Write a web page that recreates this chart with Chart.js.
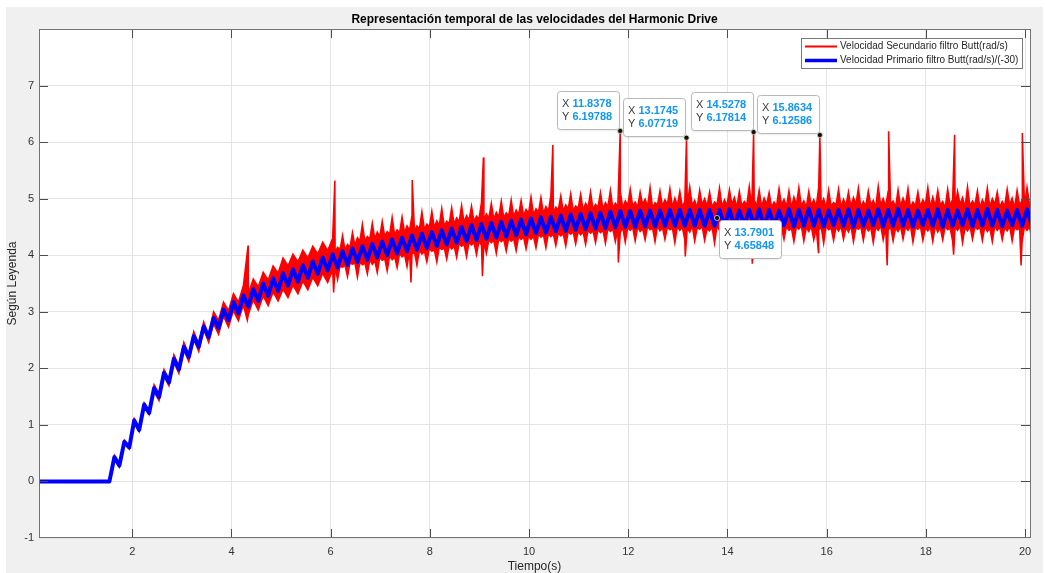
<!DOCTYPE html>
<html>
<head>
<meta charset="utf-8">
<script src="https://cdn.jsdelivr.net/npm/chart.js@4.4.1/dist/chart.umd.min.js"></script>
<style>
  html, body { margin: 0; padding: 0; background: #ffffff; }
  canvas { display: block; }
</style>
</head>
<body>
<canvas id="grafica" width="1045" height="573"></canvas>
<script>
// Base de tiempos de las muestras (s)
const T_INICIO = 1.54;
const T_MEDIO = 6.09;
const PASO = 0.1;

// Velocidad secundario filtrada (rad/s): envolvente superior e inferior de la señal
const secSuperior = [
  0, 0.46, 0.31, 0.73, 0.63, 1.11, 0.94, 1.39, 1.24, 1.71,
  1.55, 1.98, 1.81, 2.24, 2.04, 2.46, 2.25, 2.65, 2.43, 2.82,
  2.59, 3.0, 2.85, 3.17, 3.02, 3.32, 3.17, 3.46, 3.32, 3.58,
  3.44, 3.7, 3.56, 3.81, 3.68, 3.95, 3.81, 4.02, 3.88, 4.09,
  3.95, 4.16, 4.02, 4.23, 4.08, 4.3, 4.14, 4.35, 4.19, 4.4,
  4.31, 4.55, 4.33, 4.57, 4.41, 4.6, 4.42, 4.67, 4.45, 4.68,
  4.52, 4.7, 4.52, 4.77, 4.55, 4.78, 4.61, 4.83, 4.6, 4.84,
  4.66, 4.88, 4.7, 4.87, 4.69, 4.93, 4.73, 4.92, 4.76, 4.96,
  4.75, 4.98, 4.8, 4.97, 4.81, 5.03, 4.82, 5.02, 4.86, 5.06,
  4.85, 5.05, 4.89, 5.09, 4.87, 5.08, 4.92, 5.12, 4.9, 5.11,
  4.93, 5.15, 4.92, 5.13, 4.96, 5.17, 4.94, 5.12, 4.99, 5.2,
  4.93, 5.14, 4.98, 5.18, 5.01, 5.13, 4.95, 5.21, 4.97, 5.15,
  5.0, 5.12, 4.94, 5.19, 4.98, 5.16, 5.02, 5.13, 4.95, 5.22,
  4.97, 5.15, 5.01, 5.11, 4.94, 5.18, 4.99, 5.14, 5.03, 5.2,
  4.96, 5.13, 4.98, 5.21, 5.0, 5.15, 4.93, 5.17, 4.99, 5.12,
  5.02, 5.19, 4.95, 5.14, 4.97, 5.22, 5.0, 5.13, 4.96, 5.16,
  5.01, 5.18, 4.94, 5.12, 4.98, 5.2, 5.03, 5.15, 4.95, 5.17,
  4.99, 5.13, 5.02, 5.21, 4.96, 5.14, 4.98, 5.19, 5.0, 5.12,
  4.95, 5.17, 5.01, 5.15, 4.97, 5.2, 4.99
];
const secInferior = [
  0, 0.4, 0.25, 0.67, 0.57, 1.05, 0.88, 1.33, 1.18, 1.59,
  1.43, 1.86, 1.69, 2.11, 1.91, 2.33, 2.12, 2.52, 2.3, 2.69,
  2.46, 2.79, 2.6, 2.92, 2.73, 3.02, 2.84, 3.12, 2.95, 3.21,
  3.03, 3.28, 3.11, 3.35, 3.19, 3.4, 3.25, 3.47, 3.32, 3.54,
  3.39, 3.61, 3.46, 3.68, 3.52, 3.74, 3.57, 3.79, 3.62, 3.84,
  3.61, 3.83, 3.67, 3.84, 3.69, 3.91, 3.72, 3.92, 3.78, 3.97,
  3.8, 4.02, 3.82, 4.02, 3.88, 4.07, 3.88, 4.1, 3.93, 4.11,
  3.96, 4.16, 3.97, 4.18, 4.01, 4.18, 4.03, 4.22, 4.03, 4.24,
  4.07, 4.25, 4.08, 4.28, 4.11, 4.28, 4.13, 4.32, 4.13, 4.33,
  4.17, 4.34, 4.16, 4.37, 4.2, 4.36, 4.19, 4.39, 4.22, 4.4,
  4.21, 4.42, 4.24, 4.41, 4.23, 4.44, 4.25, 4.42, 4.27, 4.45,
  4.24, 4.43, 4.28, 4.45, 4.22, 4.44, 4.27, 4.41, 4.25, 4.46,
  4.26, 4.43, 4.21, 4.44, 4.28, 4.42, 4.25, 4.46, 4.23, 4.44,
  4.27, 4.41, 4.26, 4.45, 4.22, 4.43, 4.28, 4.44, 4.24, 4.46,
  4.25, 4.42, 4.27, 4.44, 4.21, 4.45, 4.26, 4.43, 4.28, 4.41,
  4.24, 4.46, 4.26, 4.43, 4.22, 4.44, 4.27, 4.45, 4.25, 4.42,
  4.28, 4.44, 4.23, 4.46, 4.26, 4.43, 4.24, 4.41, 4.27, 4.45,
  4.25, 4.44, 4.22, 4.43, 4.28, 4.46, 4.26, 4.42, 4.24, 4.44,
  4.27, 4.43, 4.25, 4.45, 4.23, 4.44, 4.26
];

// Muestras intermedias de las envolventes, desde T_MEDIO cada PASO
const secSuperiorMedio = [
  4.05, 4.1, 4.09, 4.14, 4.17, 4.25, 4.25, 4.29, 4.29, 4.33,
  4.33, 4.37, 4.36, 4.4, 4.4, 4.44, 4.43, 4.47, 4.46, 4.5,
  4.49, 4.53, 4.52, 4.56, 4.55, 4.59, 4.58, 4.62, 4.6, 4.64,
  4.62, 4.66, 4.64, 4.68, 4.66, 4.7, 4.68, 4.72, 4.7, 4.74,
  4.72, 4.76, 4.74, 4.78, 4.76, 4.8, 4.78, 4.82, 4.79, 4.83,
  4.8, 4.84, 4.81, 4.85, 4.82, 4.86, 4.83, 4.87, 4.84, 4.88,
  4.87, 4.85, 4.9, 4.86, 4.84, 4.89, 4.87, 4.9, 4.85, 4.88,
  4.86, 4.9, 4.88, 4.84, 4.89, 4.87, 4.85, 4.9, 4.86, 4.88,
  4.9, 4.85, 4.87, 4.89, 4.84, 4.88, 4.86, 4.9, 4.85, 4.87,
  4.89, 4.86, 4.84, 4.9, 4.87, 4.85, 4.88, 4.86, 4.9, 4.84,
  4.87, 4.89, 4.85, 4.88, 4.86, 4.9, 4.84, 4.87, 4.89, 4.85,
  4.88, 4.86, 4.9, 4.85, 4.87, 4.89, 4.84, 4.88, 4.86, 4.9,
  4.85, 4.87, 4.89, 4.84, 4.88, 4.86, 4.9, 4.85, 4.87, 4.89,
  4.84, 4.88, 4.86, 4.9, 4.85, 4.87, 4.89, 4.84, 4.88, 4.86, 4.9
];
const secInferiorMedio = [
  3.78, 3.81, 3.82, 3.86, 3.86,
  3.88, 3.86, 3.92, 3.9, 3.96, 3.94, 3.99, 3.97, 4.03, 4.01,
  4.07, 4.05, 4.09, 4.07, 4.12, 4.1, 4.14, 4.13, 4.17, 4.16,
  4.21, 4.19, 4.23, 4.22, 4.24, 4.23, 4.27, 4.26, 4.29, 4.28,
  4.3, 4.29, 4.33, 4.32, 4.34, 4.33, 4.37, 4.36, 4.38, 4.37,
  4.39, 4.38, 4.42, 4.41, 4.42, 4.41, 4.44, 4.43, 4.45, 4.44,
  4.47, 4.46, 4.46, 4.48, 4.49,
  4.49, 4.5, 4.47, 4.51, 4.48, 4.52, 4.49, 4.5, 4.48, 4.51,
  4.5, 4.48, 4.52, 4.49, 4.51, 4.47, 4.5, 4.52, 4.49, 4.48,
  4.51, 4.49, 4.5, 4.52, 4.48, 4.51, 4.49, 4.5, 4.47, 4.52,
  4.49, 4.51, 4.48, 4.5, 4.52, 4.49, 4.51, 4.48, 4.5, 4.52,
  4.48, 4.5, 4.51, 4.49, 4.52, 4.48, 4.5, 4.51, 4.49, 4.5,
  4.52, 4.49, 4.5, 4.48, 4.51, 4.5, 4.52, 4.49, 4.51, 4.48,
  4.5, 4.52, 4.49, 4.51, 4.48, 4.5, 4.52, 4.49, 4.51, 4.5,
  4.49, 4.51, 4.48, 4.52, 4.5, 4.49, 4.51, 4.5, 4.48, 4.52, 4.5
];

// Velocidad primario filtrada /(-30)
const velPrimario = [
  0, 0.43, 0.28, 0.7, 0.6, 1.08, 0.91, 1.36, 1.21, 1.65,
  1.49, 1.92, 1.75, 2.17, 1.98, 2.38, 2.2, 2.57, 2.38, 2.74,
  2.55, 2.89, 2.71, 3.04, 2.85, 3.17, 2.97, 3.29, 3.09, 3.4,
  3.19, 3.5, 3.28, 3.59, 3.37, 3.68, 3.46, 3.75, 3.53, 3.82,
  3.6, 3.89, 3.67, 3.96, 3.73, 4.02, 3.78, 4.07, 3.83, 4.12,
  3.88, 4.16, 3.92, 4.2, 3.96, 4.24, 4.0, 4.28, 4.03, 4.31,
  4.07, 4.35, 4.1, 4.38, 4.13, 4.41, 4.16, 4.44, 4.19, 4.47,
  4.22, 4.5, 4.25, 4.53, 4.27, 4.55, 4.29, 4.57, 4.31, 4.59,
  4.33, 4.61, 4.35, 4.63, 4.37, 4.65, 4.39, 4.67, 4.4, 4.68,
  4.42, 4.7, 4.43, 4.72, 4.45, 4.73, 4.46, 4.74, 4.47, 4.75,
  4.48, 4.77, 4.49, 4.78, 4.5, 4.78, 4.5, 4.79, 4.51, 4.79,
  4.51, 4.79, 4.52, 4.8, 4.52, 4.8, 4.52, 4.8, 4.52, 4.8,
  4.52, 4.8, 4.52, 4.8, 4.52, 4.81, 4.51, 4.79, 4.53, 4.8,
  4.52, 4.81, 4.5, 4.8, 4.52, 4.79, 4.53, 4.81, 4.51, 4.8,
  4.52, 4.82, 4.52, 4.8, 4.51, 4.79, 4.53, 4.8, 4.52, 4.81,
  4.5, 4.8, 4.52, 4.79, 4.53, 4.81, 4.51, 4.8, 4.52, 4.82,
  4.52, 4.8, 4.51, 4.79, 4.53, 4.8, 4.52, 4.81, 4.5, 4.8,
  4.52, 4.79, 4.53, 4.81, 4.51, 4.8, 4.52, 4.82, 4.52, 4.8,
  4.51, 4.79, 4.53, 4.8, 4.52, 4.81, 4.52
];

// Picos y valles aislados del secundario
const picoT = [4.335, 6.085, 7.645, 9.08, 10.48, 17.25, 18.58, 19.945];
const picoV = [4.17, 5.32, 5.33, 5.73, 5.95, 6.19, 6.13, 6.16];
const valleT = [4.32, 6.06, 7.62, 9.06, 11.8, 13.15, 14.5, 15.835, 17.22, 18.56, 19.92];
const valleV = [2.85, 3.34, 3.52, 3.63, 3.87, 3.98, 3.85, 4.05, 3.82, 4.01, 3.82];

// Marcadores de dato (0 = secundario, 1 = primario)
const tipX = [11.8378, 13.1745, 14.5278, 15.8634, 13.7901];
const tipY = [6.19788, 6.07719, 6.17814, 6.12586, 4.65848];
const tipSerie = [0, 0, 0, 0, 1];

const etiquetas = [
  'Velocidad Secundario filtro Butt(rad/s)',
  'Velocidad Primario filtro Butt(rad/s)/(-30)'
];
const titulo = 'Representación temporal de las velocidades del Harmonic Drive';
const tituloX = 'Tiempo(s)';
const tituloY = 'Según Leyenda';

const FUENTE = '"Liberation Sans", Arial, Helvetica, sans-serif';

function muestras(t0, valores) {
  return valores.map((v, i) => ({ x: +(t0 + PASO * i).toFixed(4), y: v }));
}
function puntos(xs, ys) {
  return xs.map((xv, i) => ({ x: xv, y: ys[i] }));
}
function unir(...grupos) {
  const pts = [{ x: 0.1, y: 0 }].concat(...grupos);
  pts.sort((a, b) => a.x - b.x);
  return pts;
}

const idxSec = tipSerie.map((s, i) => (s === 0 ? i : -1)).filter(i => i >= 0);
const idxPri = tipSerie.map((s, i) => (s === 1 ? i : -1)).filter(i => i >= 0);

const datosSup = unir(
  muestras(T_INICIO, secSuperior),
  muestras(T_MEDIO, secSuperiorMedio),
  puntos(picoT, picoV),
  puntos(idxSec.map(i => tipX[i]), idxSec.map(i => tipY[i]))
);
const datosInf = unir(
  muestras(T_INICIO, secInferior),
  muestras(T_MEDIO, secInferiorMedio),
  puntos(valleT, valleV)
);
const datosPri = unir(
  muestras(T_INICIO, velPrimario),
  puntos(idxPri.map(i => tipX[i]), idxPri.map(i => tipY[i]))
);
const datosTips = puntos(tipX, tipY);

// Fondo de la figura y del área de ejes
const fondo = {
  id: 'fondo',
  beforeDraw(chart) {
    const { ctx, chartArea: a } = chart;
    ctx.save();
    ctx.fillStyle = '#ffffff';
    ctx.fillRect(0, 0, chart.width, chart.height);
    ctx.fillStyle = '#f0f0f0';
    ctx.fillRect(6, 7, 1037, 566);
    ctx.fillStyle = '#ffffff';
    ctx.fillRect(a.left, a.top, a.right - a.left, a.bottom - a.top);
    ctx.restore();
  }
};

// Caja de ejes y marcas hacia dentro
const marco = {
  id: 'marco',
  afterDatasetsDraw(chart) {
    const { ctx, chartArea: a, scales: { x, y } } = chart;
    ctx.save();
    ctx.lineWidth = 1;
    ctx.strokeStyle = '#4d4d4d';
    ctx.beginPath();
    x.ticks.forEach(t => {
      const px = Math.round(x.getPixelForValue(t.value)) + 0.5;
      ctx.moveTo(px, a.bottom); ctx.lineTo(px, a.bottom - 9);
      ctx.moveTo(px, a.top); ctx.lineTo(px, a.top + 9);
    });
    y.ticks.forEach(t => {
      if (t.value <= y.min || t.value >= y.max) return;
      const py = Math.round(y.getPixelForValue(t.value)) + 0.5;
      ctx.moveTo(a.left, py); ctx.lineTo(a.left + 9, py);
      ctx.moveTo(a.right, py); ctx.lineTo(a.right - 9, py);
    });
    ctx.stroke();
    ctx.strokeStyle = '#737373';
    ctx.strokeRect(a.left + 0.5, a.top + 0.5, a.right - a.left, a.bottom - a.top - 1);
    ctx.restore();
  }
};

function cajaRedondeada(ctx, x, y, w, h, r) {
  ctx.beginPath();
  ctx.moveTo(x + r, y);
  ctx.lineTo(x + w - r, y);
  ctx.arcTo(x + w, y, x + w, y + r, r);
  ctx.lineTo(x + w, y + h - r);
  ctx.arcTo(x + w, y + h, x + w - r, y + h, r);
  ctx.lineTo(x + r, y + h);
  ctx.arcTo(x, y + h, x, y + h - r, r);
  ctx.lineTo(x, y + r);
  ctx.arcTo(x, y, x + r, y, r);
  ctx.closePath();
}

// Título, rótulos de ejes, leyenda y cuadros de dato
const textos = {
  id: 'textos',
  afterDraw(chart) {
    const { ctx, chartArea: a, scales: { x, y } } = chart;
    const cx = (a.left + a.right) / 2;
    ctx.save();

    ctx.fillStyle = '#000000';
    ctx.font = 'bold 12px ' + FUENTE;
    ctx.textAlign = 'center';
    ctx.textBaseline = 'alphabetic';
    ctx.fillText(titulo, cx, 22.5);

    ctx.fillStyle = '#262626';
    ctx.font = '12px ' + FUENTE;
    ctx.fillText(tituloX, cx, 570);

    ctx.save();
    ctx.translate(15.5, (a.top + a.bottom) / 2);
    ctx.rotate(-Math.PI / 2);
    ctx.fillText(tituloY, 0, 0);
    ctx.restore();

    // leyenda
    const lx = 801, ly = 38, lw = 221, lh = 30;
    ctx.fillStyle = '#ffffff';
    ctx.fillRect(lx, ly, lw, lh);
    ctx.strokeStyle = '#7a7a7a';
    ctx.lineWidth = 1;
    ctx.strokeRect(lx + 0.5, ly + 0.5, lw, lh);
    const colores = ['#ff0000', '#0000ff'];
    const grosores = [2, 3.5];
    const filas = [46.5, 60.5];
    ctx.font = '10px ' + FUENTE;
    ctx.textAlign = 'left';
    ctx.textBaseline = 'middle';
    for (let i = 0; i < 2; i++) {
      ctx.strokeStyle = colores[i];
      ctx.lineWidth = grosores[i];
      ctx.beginPath();
      ctx.moveTo(805, filas[i]);
      ctx.lineTo(837, filas[i]);
      ctx.stroke();
      ctx.fillStyle = '#262626';
      ctx.fillText(etiquetas[i], 840, filas[i]);
    }

    // cuadros de dato
    tipX.forEach((xv, i) => {
      const px = x.getPixelForValue(xv);
      const py = y.getPixelForValue(tipY[i]);
      const vx = String(xv), vy = String(tipY[i]);
      ctx.font = '11px ' + FUENTE;
      const wX = ctx.measureText('X ').width;
      const wY = ctx.measureText('Y ').width;
      ctx.font = 'bold 11px ' + FUENTE;
      const wV = Math.max(wX + ctx.measureText(vx).width, wY + ctx.measureText(vy).width);
      const w = Math.round(5 + wV + 7);
      const h = 38;
      let bx, by;
      if (tipSerie[i] === 0) { bx = Math.round(px - 1 - w); by = Math.round(py - 2 - h); }
      else { bx = Math.round(px + 2); by = Math.round(py + 2); }
      ctx.save();
      ctx.shadowColor = 'rgba(0,0,0,0.12)';
      ctx.shadowBlur = 2;
      ctx.shadowOffsetY = 1;
      cajaRedondeada(ctx, bx + 0.5, by + 0.5, w, h, 3);
      ctx.fillStyle = '#ffffff';
      ctx.fill();
      ctx.restore();
      cajaRedondeada(ctx, bx + 0.5, by + 0.5, w, h, 3);
      ctx.strokeStyle = '#b8b8b8';
      ctx.lineWidth = 1;
      ctx.stroke();
      ctx.textBaseline = 'middle';
      ctx.textAlign = 'left';
      ctx.font = '11px ' + FUENTE;
      ctx.fillStyle = '#3a3a3a';
      ctx.fillText('X', bx + 5, by + 12.5);
      ctx.fillText('Y', bx + 5, by + 26);
      ctx.font = 'bold 11px ' + FUENTE;
      ctx.fillStyle = '#1296f3';
      ctx.fillText(vx, bx + 5 + wX, by + 12.5);
      ctx.fillText(vy, bx + 5 + wY, by + 26);
    });

    ctx.restore();
  }
};

new Chart(document.getElementById('grafica'), {
  type: 'line',
  data: {
    datasets: [
      {
        type: 'scatter',
        label: 'marcadores',
        data: datosTips,
        showLine: false,
        pointRadius: 2.6,
        pointBackgroundColor: '#111111',
        pointBorderColor: '#d8d8c0',
        pointBorderWidth: 0.8,
        order: 0
      },
      {
        label: etiquetas[1],
        data: datosPri,
        borderColor: '#0000ff',
        borderWidth: 4,
        borderJoinStyle: 'round',
        pointRadius: 0,
        tension: 0,
        fill: false,
        clip: 0,
        order: 1
      },
      {
        label: etiquetas[0],
        data: datosSup,
        borderColor: '#ff0000',
        backgroundColor: '#ff0000',
        borderWidth: 1.5,
        pointRadius: 0,
        tension: 0,
        fill: '+1',
        clip: 0,
        order: 2
      },
      {
        label: etiquetas[0] + ' (envolvente inferior)',
        data: datosInf,
        borderColor: '#ff0000',
        borderWidth: 1.5,
        pointRadius: 0,
        tension: 0,
        fill: false,
        clip: 0,
        order: 3
      }
    ]
  },
  options: {
    responsive: false,
    devicePixelRatio: 1,
    animation: false,
    events: [],
    parsing: false,
    layout: { padding: { left: 0, right: 15, top: 29, bottom: 0 } },
    plugins: {
      legend: { display: false },
      tooltip: { enabled: false },
      title: { display: false },
      filler: { propagate: false }
    },
    scales: {
      x: {
        type: 'linear',
        min: 0.12,
        max: 20.1,
        border: { display: false },
        grid: { color: '#e3e3e3', lineWidth: 1, drawTicks: false },
        ticks: {
          stepSize: 2,
          includeBounds: false,
          autoSkip: false,
          maxRotation: 0,
          padding: 7,
          color: '#333333',
          font: { family: FUENTE, size: 11 }
        },
        afterFit(s) { s.height = 35; }
      },
      y: {
        type: 'linear',
        min: -1,
        max: 8,
        border: { display: false },
        grid: { color: '#e3e3e3', lineWidth: 1, drawTicks: false },
        ticks: {
          stepSize: 1,
          autoSkip: false,
          padding: 5,
          color: '#333333',
          font: { family: FUENTE, size: 11 },
          callback: v => (v >= 8 ? '' : String(v))
        },
        afterFit(s) { s.width = 39; }
      }
    }
  },
  plugins: [fondo, marco, textos]
});
</script>
</body>
</html>
